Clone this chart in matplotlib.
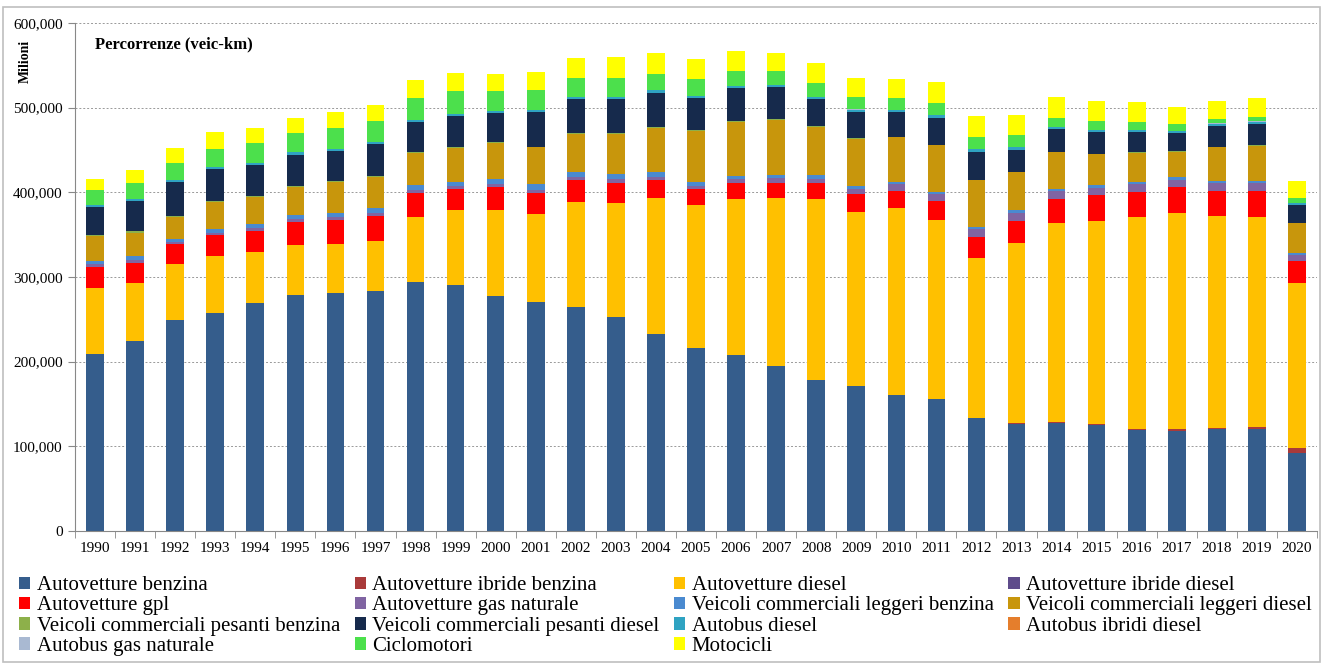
import numpy as np
import matplotlib
matplotlib.use('Agg')
import matplotlib.pyplot as plt
from matplotlib.ticker import FuncFormatter, FixedLocator
from matplotlib.patches import Rectangle

plt.rcParams['font.family'] = ['Liberation Serif', 'DejaVu Serif']

# anni
years = [str(y) for y in range(1990, 2021)]

# percorrenze in migliaia di milioni di veic-km
autovetture_benzina = [209, 224, 249, 258, 269, 279, 281.5, 284, 294, 290, 277, 270.5, 264.5, 252.5, 233, 216,
                       208, 194.5, 178, 171, 161, 156, 133.5, 126.5, 128, 125, 119.5, 118.5, 120, 120, 92.5]
autovetture_ibride_benzina = [0, 0, 0, 0, 0, 0, 0, 0, 0, 0, 0, 0, 0, 0, 0, 0,
                              0, 0, 0, 0, 0.1, 0.2, 0.3, 0.5, 0.7, 1.0, 1.3, 1.7, 2.2, 3.0, 5.0]
autovetture_diesel = [78, 69, 66, 67, 61, 59, 58, 59, 77, 89, 102, 103.5, 124.5, 134.5, 160.5, 169,
                      184.5, 198.5, 214.5, 206, 220, 211.5, 189, 213, 235, 240.5, 250, 255, 249.5, 247.5, 195]
autovetture_ibride_diesel = [0, 0, 0, 0, 0, 0, 0, 0, 0, 0, 0, 0, 0, 0, 0, 0,
                             0, 0, 0, 0, 0, 0, 0, 0, 0, 0.1, 0.2, 0.3, 0.4, 0.5, 0.6]
autovetture_gpl = [25, 24, 23.5, 25, 24.5, 27, 27.5, 29, 28.5, 24.5, 27.5, 25.5, 25, 24.5, 21, 18.5,
                   18, 18, 18, 21.5, 21, 22.5, 25, 26.5, 28.5, 30.5, 29.5, 30.5, 29.5, 30.5, 25.5]
autovetture_gas_naturale = [3, 3, 2.5, 2.5, 3, 3, 3.5, 3.5, 3.5, 3.5, 3.5, 3.5, 4, 4, 4, 4,
                            5, 5.5, 5.5, 6, 7.5, 7.5, 8.5, 9.5, 9, 8.5, 9, 9, 9, 9, 7]
vcl_benzina = [4, 5, 3.5, 4, 5.5, 5, 5.5, 5.5, 5.5, 5, 6, 6.5, 6, 6, 5, 5,
               4, 4, 4, 3, 3, 3, 3, 3, 3, 3, 3, 3, 3, 3, 2.5]
vcl_diesel = [29, 27.5, 26.5, 32, 32, 33.5, 36, 37, 38, 40.5, 42, 43.5, 44.5, 47.5, 53, 60,
              64, 65.5, 57.5, 56, 52.5, 55, 55, 45, 43.5, 36.5, 34.5, 30, 39.5, 41.5, 35.5]
vcp_benzina = [1.5, 1.5, 1.2, 1.2, 1.1, 1.1, 1, 1, 1, 1, 1, 1, 1, 0.9, 0.9, 0.9,
               0.8, 0.8, 0.7, 0.7, 0.6, 0.6, 0.5, 0.5, 0.5, 0.5, 0.4, 0.4, 0.4, 0.4, 0.3]
vcp_diesel = [33, 36, 39.5, 37.5, 36, 37, 36, 38.5, 35.5, 37, 35, 40.5, 40.5, 40.5, 40.5, 38.5,
              38.5, 37.5, 32, 31, 29, 31.5, 33, 25.5, 27, 25.5, 24, 22, 25, 25.5, 21.5]
autobus_diesel = [3, 2.5, 3, 2.5, 3, 3, 2, 2.5, 2.5, 2.5, 2.5, 2.5, 2.5, 2.5, 2.5, 2,
                  2.5, 2, 2.5, 2.5, 2.5, 3, 3, 3, 2, 2, 2, 2, 2.5, 2.5, 2]
autobus_ibridi_diesel = [0, 0, 0, 0, 0, 0, 0, 0, 0, 0, 0, 0, 0, 0, 0, 0,
                         0, 0, 0, 0, 0, 0, 0, 0, 0, 0, 0, 0.02, 0.02, 0.03, 0.03]
autobus_gas_naturale = [0, 0, 0, 0, 0, 0, 0, 0, 0.05, 0.05, 0.1, 0.1, 0.1, 0.1, 0.15, 0.15,
                        0.15, 0.2, 0.2, 0.2, 0.2, 0.2, 0.25, 0.25, 0.25, 0.25, 0.25, 0.3, 0.3, 0.3, 0.25]
ciclomotori = [17, 18.5, 19.5, 21, 23, 22.5, 25.5, 24.5, 25.5, 26.5, 23.5, 23.5, 22.5, 21.5, 19, 19.5,
               17.5, 16.5, 16.5, 14.5, 13.5, 14, 14, 14, 10.5, 10.5, 10, 8, 5, 5, 6]
motocicli = [13, 15, 18, 20, 18, 18, 18, 19, 22, 21.5, 20, 21, 23, 25.5, 25.5, 23.5,
             23.5, 22, 23, 22.5, 23, 25, 25, 24.5, 25, 23.5, 23, 20.5, 21.5, 22.5, 19.5]

labels = ['Autovetture benzina', 'Autovetture ibride benzina', 'Autovetture diesel',
          'Autovetture ibride diesel', 'Autovetture gpl', 'Autovetture gas naturale',
          'Veicoli commerciali leggeri benzina', 'Veicoli commerciali leggeri diesel',
          'Veicoli commerciali pesanti benzina', 'Veicoli commerciali pesanti diesel',
          'Autobus diesel', 'Autobus ibridi diesel', 'Autobus gas naturale',
          'Ciclomotori', 'Motocicli']
series = [autovetture_benzina, autovetture_ibride_benzina, autovetture_diesel,
          autovetture_ibride_diesel, autovetture_gpl, autovetture_gas_naturale,
          vcl_benzina, vcl_diesel, vcp_benzina, vcp_diesel,
          autobus_diesel, autobus_ibridi_diesel, autobus_gas_naturale,
          ciclomotori, motocicli]
colors = ['#355D8C', '#A93A3A', '#FFC000', '#5E4B8B', '#FF0000', '#8064A2',
          '#4A8AD0', '#C8960C', '#8DB04A', '#162A4C', '#2FA3C2', '#E57E2C', '#A9B9D2',
          '#4CE04C', '#FFFF00']

fig = plt.figure(figsize=(13.25, 6.65), dpi=100)
# cornice esterna
fig.patches.append(Rectangle((0.002, 0.004), 0.994, 0.985, transform=fig.transFigure,
                             fill=False, edgecolor='#BFBFBF', linewidth=1.2))

ax = fig.add_axes([75 / 1325, 1 - 531 / 665, 1242 / 1325, 508 / 665])

x = np.arange(len(years))
bottom = np.zeros(len(years))
handles = []
for vals, lab, col in zip(series, labels, colors):
    v = np.array(vals) * 1000
    b = ax.bar(x, v, 0.44, bottom=bottom, color=col, label=lab, linewidth=0)
    handles.append(b)
    bottom += v

ax.set_xlim(-0.5, len(years) - 0.5)
ax.set_ylim(0, 600000)
ax.set_yticks(np.arange(0, 600001, 100000))
ax.yaxis.set_major_formatter(FuncFormatter(lambda v, p: f'{int(v):,}'))
ax.set_xticks(x)
ax.set_xticklabels(years)
ax.xaxis.set_minor_locator(FixedLocator(np.arange(-0.5, len(years), 1)))
ax.tick_params(axis='x', which='major', length=0, labelsize=11, pad=8)
ax.tick_params(axis='x', which='minor', length=5, color='#888888')
ax.tick_params(axis='y', length=5, color='#888888', labelsize=11, pad=4)
ax.grid(axis='y', linestyle=(0, (2, 2)), color='#999999', linewidth=0.7)
ax.set_axisbelow(True)
for s in ['top', 'right']:
    ax.spines[s].set_visible(False)
for s in ['left', 'bottom']:
    ax.spines[s].set_color('#888888')

ax.text(0.016, 0.957, 'Percorrenze (veic-km)', transform=ax.transAxes,
        fontsize=12, fontweight='bold', va='center', ha='left')
fig.text(25 / 1325, 1 - 61 / 665, 'Milioni', rotation=90, fontsize=10,
         fontweight='bold', va='center', ha='center')

# legenda in ordine per righe come nell'originale
order = [0, 4, 8, 12, 1, 5, 9, 13, 2, 6, 10, 14, 3, 7, 11]
fig.legend([handles[i] for i in order], [labels[i] for i in order],
           loc='upper left', bbox_to_anchor=(0.008, 0.146), ncol=4, frameon=False,
           fontsize=15, labelspacing=0.06, handlelength=0.55, handleheight=0.55,
           handletextpad=0.3, columnspacing=0.7, borderaxespad=0)

fig.savefig('out.png', dpi=100)
